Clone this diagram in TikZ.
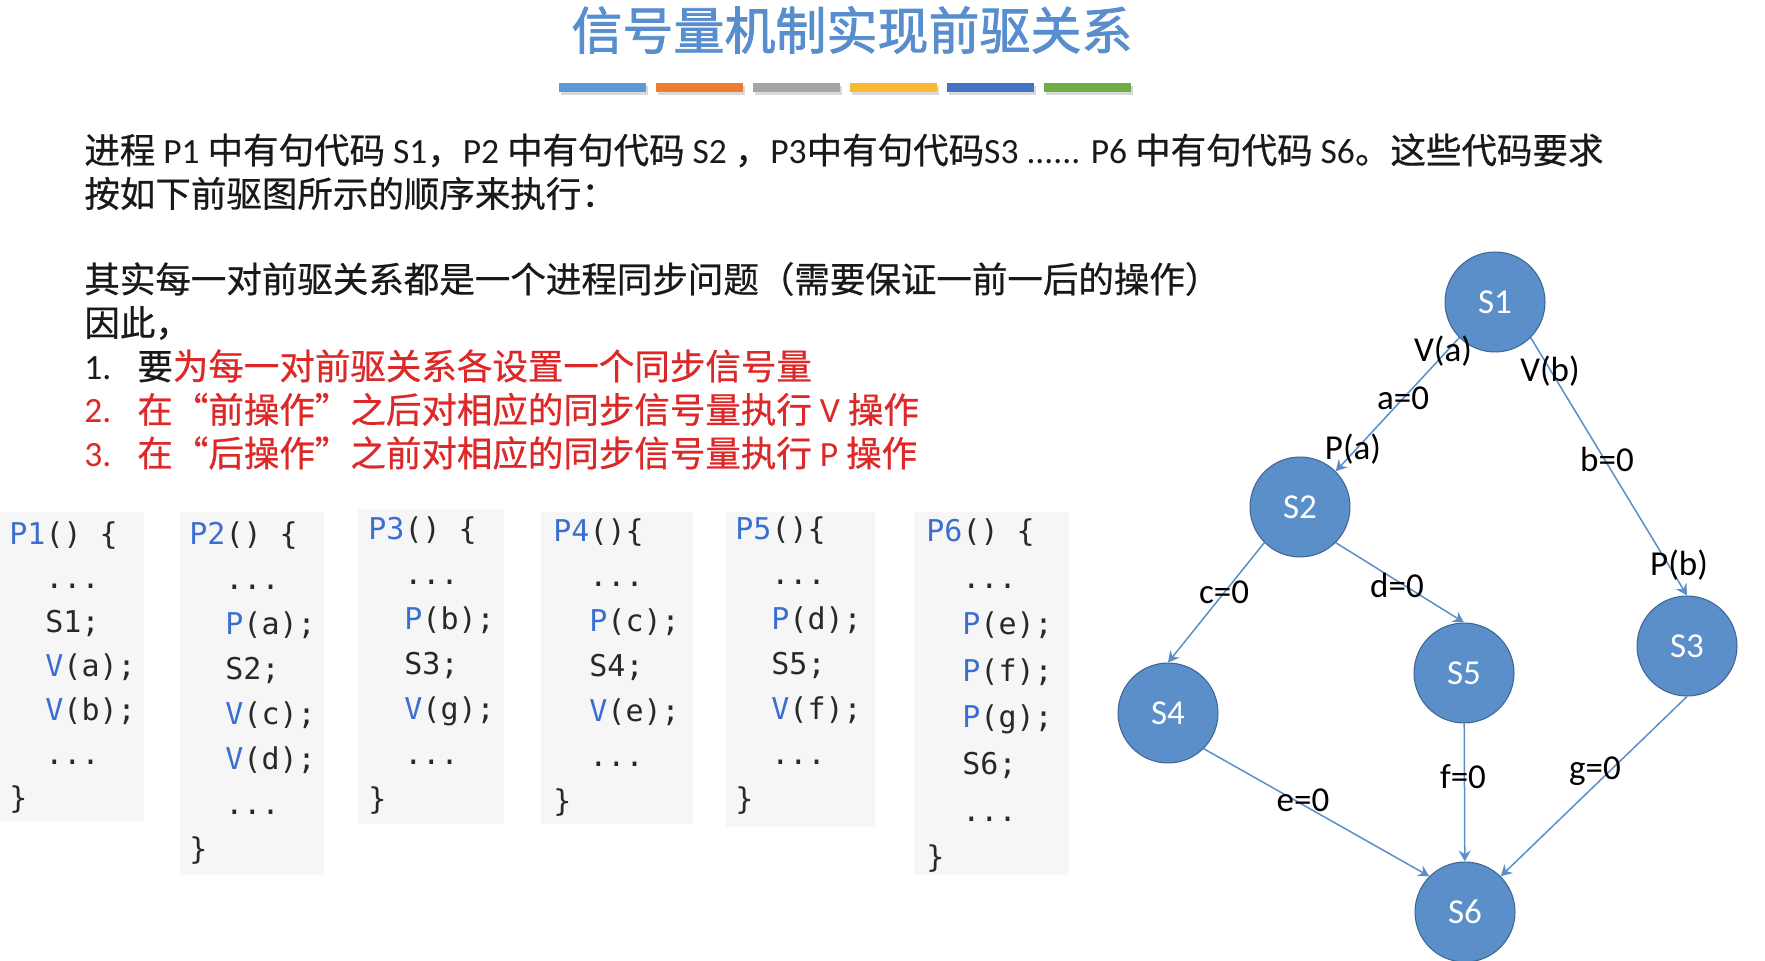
\documentclass[tikz,border=0pt]{standalone}
\usepackage{fontspec}
\setmainfont{Carlito}
\setmonofont{DejaVu Sans Mono}
\newfontfamily\cjk[FakeBold=0.6]{Noto Sans CJK SC}
\newfontfamily\cjktitle[FakeBold=1.6]{Noto Sans CJK SC}
\usetikzlibrary{arrows.meta}
\definecolor{titleblue}{RGB}{88,142,206}
\definecolor{nodeblue}{RGB}{91,143,201}
\definecolor{nodeline}{RGB}{62,100,145}
\definecolor{codeblue}{RGB}{58,111,208}
\definecolor{codetxt}{RGB}{40,40,40}
\definecolor{codebg}{RGB}{246,246,246}
\definecolor{txtred}{RGB}{222,40,40}
\definecolor{txt}{RGB}{25,25,25}
\definecolor{barA}{RGB}{91,155,213}
\definecolor{barB}{RGB}{237,125,49}
\definecolor{barC}{RGB}{165,165,165}
\definecolor{barD}{RGB}{250,185,50}
\definecolor{barE}{RGB}{68,114,196}
\definecolor{barF}{RGB}{112,173,71}
\newcommand\stack[1]{\vtop{\let\\\cr\halign{##\hfil\cr#1\crcr}}}
\newcommand\blu[1]{\textcolor{codeblue}{#1}}
\newcommand\red[1]{\textcolor{txtred}{#1}}
\newcommand\lat[1]{{\rmfamily #1}}
\newcommand\ind{\hspace*{18pt}}
\newcommand\itemno[1]{\makebox[26.5pt][l]{\lat{#1}}}
\begin{document}
\begin{tikzpicture}[x=0.5pt,y=-0.5pt,
  snode/.style={circle,fill=nodeblue,draw=nodeline,line width=0.5pt,minimum size=50pt,inner sep=0pt,text=white,font=\fontsize{17.5}{20}\selectfont},
  link/.style={draw=nodeblue,line width=0.75pt,-{Stealth[length=5.5pt,width=6pt]}},
  lab/.style={inner sep=0pt,font=\fontsize{17.5}{20}\selectfont},
  code/.style={anchor=base west,inner sep=0pt,text=codetxt,font=\ttfamily\fontsize{15}{22.5}\selectfont},
  para/.style={anchor=base west,inner sep=0pt,text=txt,font=\cjk\fontsize{17.75}{21.75}\selectfont}]
\useasboundingbox (0,0) rectangle (1765,961);
\fill[white] (0,0) rectangle (1765,961);

% title and colour bars
\node[text=titleblue,font=\cjktitle\fontsize{25.5}{30}\selectfont] (title) at (852,30) {信号量机制实现前驱关系};
\foreach \c [count=\i from 0] in {barA,barB,barC,barD,barE,barF}{
  \fill[black!15] (561+97*\i,86) rectangle (648+97*\i,95);
  \fill[\c] (559+97*\i,83) rectangle (646+97*\i,92);
}

% text
\node[para] (intro) at (84,163.5) {\stack{进程 \lat{P1} 中有句代码 \lat{S1}，\lat{P2} 中有句代码 \lat{S2} ，\lat{P3}中有句代码\lat{S3 ......} \lat{P6} 中有句代码 \lat{S6}。这些代码要求\\按如下前驱图所示的顺序来执行：}};
\node[para] (rules) at (84,292.5) {\stack{其实每一对前驱关系都是一个进程同步问题（需要保证一前一后的操作）\\因此，\\\itemno{1.}要\red{为每一对前驱关系各设置一个同步信号量}\\\red{\itemno{2.}在“前操作”之后对相应的同步信号量执行 \lat{V} 操作}\\\red{\itemno{3.}在“后操作”之前对相应的同步信号量执行 \lat{P} 操作}}};

% code of the six processes
\fill[codebg] (0,512) rectangle (144,821);
\fill[codebg] (180,512) rectangle (324,875);
\fill[codebg] (358,509) rectangle (504,824);
\fill[codebg] (541,512) rectangle (693,824);
\fill[codebg] (726,512) rectangle (875,827);
\fill[codebg] (914,512) rectangle (1069,875);
\node[code,font=\ttfamily\fontsize{15}{22}\selectfont] (p1) at (9,544.5) {\stack{\blu{P1}() \{\\\ind...\\\ind S1;\\\ind\blu{V}(a);\\\ind\blu{V}(b);\\\ind...\\\}}};
\node[code] (p2) at (189,544.5) {\stack{\blu{P2}() \{\\\ind...\\\ind\blu{P}(a);\\\ind S2;\\\ind\blu{V}(c);\\\ind\blu{V}(d);\\\ind...\\\}}};
\node[code] (p3) at (368,539.5) {\stack{\blu{P3}() \{\\\ind...\\\ind\blu{P}(b);\\\ind S3;\\\ind\blu{V}(g);\\\ind...\\\}}};
\node[code] (p4) at (553,541.5) {\stack{\blu{P4}()\{\\\ind...\\\ind\blu{P}(c);\\\ind S4;\\\ind\blu{V}(e);\\\ind...\\\}}};
\node[code] (p5) at (735,539.5) {\stack{\blu{P5}()\{\\\ind...\\\ind\blu{P}(d);\\\ind S5;\\\ind\blu{V}(f);\\\ind...\\\}}};
\node[code,font=\ttfamily\fontsize{15}{23.3}\selectfont] (p6) at (926,541.5) {\stack{\blu{P6}() \{\\\ind...\\\ind\blu{P}(e);\\\ind\blu{P}(f);\\\ind\blu{P}(g);\\\ind S6;\\\ind...\\\}}};

% precedence graph
\node[snode] (s1) at (1495,302) {S1};
\node[snode] (s2) at (1300,507) {S2};
\node[snode] (s3) at (1687,646) {S3};
\node[snode] (s4) at (1168,713) {S4};
\node[snode] (s5) at (1464,673) {S5};
\node[snode] (s6) at (1465,912) {S6};
\draw[link] (s1.south west) -- (s2.north east);
\draw[link] (s1.south east) -- (s3.north);
\draw[link] (s2.south west) -- (s4.north);
\draw[link] (s2.south east) -- (s5.north);
\draw[link] (s4.south east) -- (s6.north west);
\draw[link] (s5) -- (s6);
\draw[link] (s3.south) -- (s6.north east);
\node[lab] (va) at (1443,351) {V(a)};
\node[lab] (a0) at (1403,398) {a=0};
\node[lab] (pa) at (1353,449) {P(a)};
\node[lab] (vb) at (1550,371) {V(b)};
\node[lab] (b0) at (1607,459) {b=0};
\node[lab] (pb) at (1679,565) {P(b)};
\node[lab] (c0) at (1224,592) {c=0};
\node[lab] (d0) at (1397,585) {d=0};
\node[lab] (e0) at (1303,800) {e=0};
\node[lab] (f0) at (1463,777) {f=0};
\node[lab] (g0) at (1595,771) {g=0};
\end{tikzpicture}
\end{document}
